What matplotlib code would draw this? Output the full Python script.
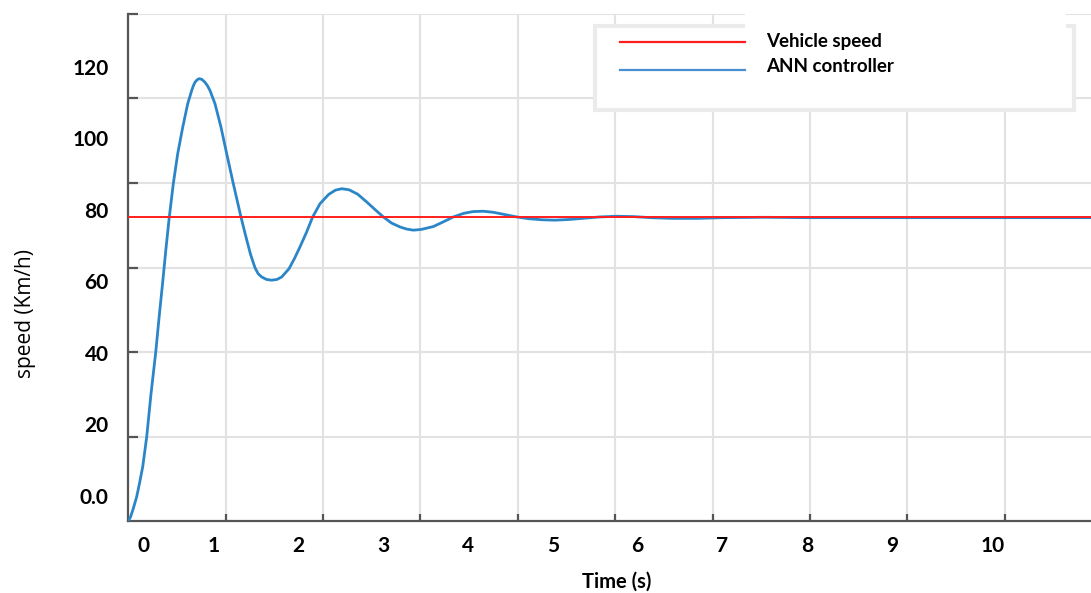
import numpy as np
import matplotlib
matplotlib.use("Agg")
import matplotlib.pyplot as plt
from matplotlib.patches import Rectangle
from matplotlib.lines import Line2D
from matplotlib.ticker import FixedLocator
from matplotlib.transforms import ScaledTranslation

# ---- data -------------------------------------------------------------
series_names = ["Vehicle speed", "ANN controller"]
vehicle_speed = 78.0

time_s = [0.000, 0.026, 0.055, 0.099, 0.134, 0.170, 0.217, 0.267, 0.323,
          0.364, 0.405, 0.444, 0.483, 0.530, 0.582, 0.641, 0.700, 0.747,
          0.766, 0.786, 0.811, 0.836, 0.866, 0.903, 0.933, 0.962, 1.021,
          1.092, 1.159, 1.237, 1.327,
          1.386, 1.439, 1.492, 1.530, 1.571, 1.628, 1.689, 1.751, 1.807,
          1.893, 1.958, 2.022, 2.099, 2.172, 2.258, 2.360, 2.440, 2.514,
          2.600, 2.700, 2.808, 2.900, 3.004, 3.100, 3.200, 3.280, 3.357,
          3.450, 3.592, 3.700, 3.828, 3.950, 4.060, 4.181, 4.300, 4.450,
          4.575, 4.720, 4.880, 5.026, 5.200, 5.400, 5.550, 5.753, 5.950,
          6.150, 6.400, 6.700, 7.000, 7.500, 8.000, 9.000, 10.000, 11.340]
ann_speed = [-7.1, -6.0, -3.9, -0.3, 3.7, 8.1, 16.5, 28.4, 40.1,
             50.2, 59.7, 69.2, 78.0, 87.3, 95.7, 103.1, 109.7, 113.4,
             114.7, 115.7, 116.4, 116.7, 116.5, 115.7, 114.7, 113.4, 109.7,
             103.1, 95.7, 87.3, 78.0,
             72.4, 67.6, 63.8, 62.1, 61.2, 60.5, 60.3, 60.5, 61.2,
             63.5, 66.4, 69.6, 73.7, 78.0, 81.7, 84.3, 85.5, 85.9,
             85.6, 84.4, 82.2, 80.2, 78.0, 76.3, 75.2, 74.6, 74.3,
             74.5, 75.3, 76.5, 78.0, 79.0, 79.5, 79.6, 79.3, 78.6,
             78.0, 77.5, 77.2, 77.1, 77.3, 77.7, 78.0, 78.2, 78.1,
             77.8, 77.6, 77.6, 77.8, 77.9, 77.8, 77.8, 77.8, 77.8]

x_tick_values = list(range(0, 11))
x_tick_labels = [str(v) for v in x_tick_values]
y_tick_values = [0, 20, 40, 60, 80, 100, 120]
y_tick_labels = ["0.0", "20", "40", "60", "80", "100", "120"]

# ---- figure -----------------------------------------------------------
W, H = 1091, 593
fig = plt.figure(figsize=(W / 100, H / 100), dpi=100)
ax = fig.add_axes([128.3 / W, 72 / H, 962.7 / W, 507 / H])

xmin, xmax = 0.0, 11.34
ymin, ymax = -7.1, 134.8
ax.set_xlim(xmin, xmax)
ax.set_ylim(ymin, ymax)

blue = "#2b86c8"
red = "#ff1f1f"
axis_col = "#555555"
grid_col = "#e2e2e2"

ax.plot(time_s, ann_speed, color=blue, lw=2.0, zorder=3,
        solid_joinstyle="round", label=series_names[1])
ax.axhline(vehicle_speed, color=red, lw=1.4, zorder=4, label=series_names[0])

# spines
for side in ("top", "right"):
    ax.spines[side].set_visible(False)
for side in ("left", "bottom"):
    ax.spines[side].set_color(axis_col)
    ax.spines[side].set_linewidth(1.6)

# labelled ticks
tick_font = dict(family="Lato", weight="bold", size=15)
ax.set_xticks(x_tick_values)
ax.set_xticklabels(x_tick_labels, fontdict=tick_font)
ax.set_yticks(y_tick_values)
ax.set_yticklabels(y_tick_labels, fontdict=tick_font)
ax.tick_params(axis="x", which="major", length=0, pad=11, colors="black")
ax.tick_params(axis="y", which="major", length=0, pad=14, colors="black")

# grid divisions with inward tick marks
x_step = 1.1472
grid_x = np.arange(1, 10) * x_step
grid_y = np.linspace(ymin, ymax, 7)[1:]
ax.xaxis.set_minor_locator(FixedLocator(grid_x))
ax.yaxis.set_minor_locator(FixedLocator(grid_y))
ax.tick_params(axis="x", which="minor", direction="in", length=5,
               width=1.6, color=axis_col)
ax.tick_params(axis="y", which="minor", direction="in", length=7.5,
               width=1.6, color=axis_col)
ax.grid(which="minor", color=grid_col, lw=1.5, zorder=0)
ax.grid(which="major", visible=False)
ax.set_axisbelow(True)

# end labels sit a little to the right
shift = ScaledTranslation(0.15, 0, fig.dpi_scale_trans)
xl = ax.get_xticklabels()
for lab in (xl[0], xl[-1]):
    lab.set_transform(lab.get_transform() + shift)

# axis titles
ax.set_xlabel("Time (s)", family="Lato", weight="bold", size=14.5)
ax.xaxis.label.set_va("center")
ax.xaxis.set_label_coords((616.7 - 128.3) / 962.7, (521 - 581.7) / 507)
ax.set_ylabel("speed (Km/h)", family="Open Sans", size=15)
ax.yaxis.label.set_va("center")
ax.yaxis.set_label_coords((25 - 128.3) / 962.7, (521 - 313) / 507)


# ---- legend box (pixel layout, top-left origin) -----------------------
def fx(x):
    return x / W


def fy(y):
    return 1 - y / H


frame = Rectangle((fx(594.5), fy(110.5)), fx(1074) - fx(594.5),
                  fy(26.5) - fy(110.5), transform=fig.transFigure,
                  facecolor="white", edgecolor="#ebebeb", lw=3.0, zorder=5)
fig.add_artist(frame)
cover = Rectangle((fx(745), fy(31)), fx(1066) - fx(745), fy(9) - fy(31),
                  transform=fig.transFigure, facecolor="white",
                  edgecolor="none", zorder=6)
fig.add_artist(cover)

for col, yy in ((red, 42), ("#4a8fd0", 70)):
    fig.add_artist(Line2D([fx(620), fx(745)], [fy(yy), fy(yy)],
                          transform=fig.transFigure, color=col, lw=1.6,
                          zorder=7))
for name, yy in ((series_names[0], 41), (series_names[1], 67)):
    fig.text(fx(766), fy(yy), name, family="Lato", weight="bold", size=13.5,
             va="center", ha="left", zorder=8)

fig.savefig("out.png", dpi=100)
